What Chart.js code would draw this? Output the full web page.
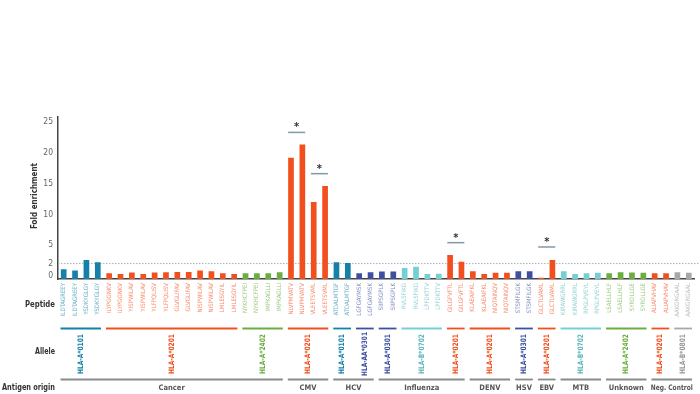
<!DOCTYPE html>
<html>
<head>
<meta charset="utf-8">
<script src="https://cdn.jsdelivr.net/npm/chart.js@4/dist/chart.umd.min.js"></script>
<style>html,body{margin:0;padding:0;background:#fff}</style>
</head>
<body>
<canvas id="chart" width="700" height="394"></canvas>
<script>
/* data */
const peptides = [
  'ILDTAGREEY','ILDTAGREEY','YSDKYGLGY','YSDKYGLGY',
  'ILYPGGNKV','ILYPGGNKV','YISPWILAV','YISPWILAV','YLFPQLISV','YLFPQLISV',
  'GLVGLIFAV','GLVGLIFAV','NISPWILAV','NISPWILAV','LMLESGYIL','LMLESGYIL',
  'NYKHCFPEI','NYKHCFPEI','IMPKAGLLI','IMPKAGLLI',
  'NLVPMVATV','NLVPMVATV','VLEETSVML','VLEETSVML',
  'ATDALMTGF','ATDALMTGF','LGFGAYMSK','LGFGAYMSK',
  'SIIPSGPLK','SIIPSGPLK','RVLSFIKG','RVLSFIKG','LPFDKTTV','LPFDKTTV','GILGFVFTL','GILGFVFTL',
  'KLAEAIFKL','KLAEAIFKL','NIQTAINQV','NIQTAINQV',
  'STSMFILGK','STSMFILGK',
  'GLCTLVAML','GLCTLVAML',
  'KIRAWGRRL','KIRAWGRRL','RPGLPVEYL','RPGLPVEYL',
  'LSAELLHLF','LSAELLHLF','SYRDLLGE','SYRDLLGE',
  'ALIAPVHAV','ALIAPVHAV','AAKGRGAAL','AAKGRGAAL'
];
const foldEnrichment = [
  1.1, 0.9, 2.6, 2.2,
  0.45, 0.3, 0.55, 0.3, 0.55, 0.6, 0.65, 0.65, 0.9, 0.75, 0.45, 0.3,
  0.45, 0.45, 0.45, 0.6,
  19.2, 21.35, 12.0, 14.6,
  2.2, 2.1, 0.45, 0.6,
  0.7, 0.7, 1.3, 1.5, 0.3, 0.35, 3.4, 2.3,
  0.75, 0.3, 0.5, 0.5,
  0.75, 0.75,
  -0.3, 2.6,
  0.75, 0.3, 0.45, 0.5,
  0.45, 0.6, 0.55, 0.5,
  0.45, 0.45, 0.6, 0.5
];
const alleleLabels = ['HLA-A*0101','HLA-A*0201','HLA-A*2402','HLA-A*0201','HLA-A*0101','HLA-AA*0301',
  'HLA-A*0301','HLA-B*0702','HLA-A*0201','HLA-A*0201','HLA-A*0301','HLA-A*0201','HLA-B*0702',
  'HLA-A*2402','HLA-A*0201','HLA-B*0801'];
const alleleSizes = [4,12,4,4,2,2,2,4,2,4,2,2,4,4,2,2];
const originLabels = ['Cancer','CMV','HCV','Influenza','DENV','HSV','EBV','MTB','Unknown','Neg. Control'];
const originSizes = [20,4,4,8,4,2,2,4,4,4];
const yTicks = [0,2,5,10,15,20,25];
const threshold = 2;
const sigStart = [20,22,34,42];      // first bar of each significant pair
const sigLevel = [23.3,16.6,5.4,4.7]; // height of the bracket

/* colours */
const alleleColors = {
  'HLA-A*0101':'#1580a8','HLA-A*0201':'#f24f1f','HLA-A*2402':'#6aae3e',
  'HLA-AA*0301':'#3d4fa0','HLA-A*0301':'#3d4fa0','HLA-B*0702':'#76cfd3','HLA-B*0801':'#a8a8ab'
};
const alleleTextColors = Object.assign({}, alleleColors, {'HLA-B*0702':'#5cb8bb','HLA-B*0801':'#999999'});
const FONT = '"DejaVu Sans Condensed","Liberation Sans Narrow","Liberation Sans",sans-serif';

function lighten(hex, k){
  const n = parseInt(hex.slice(1),16);
  const c = [n>>16, (n>>8)&255, n&255].map(v=>Math.round(v+(255-v)*k));
  return `rgb(${c[0]},${c[1]},${c[2]})`;
}
function spans(sizes){ let s=0; return sizes.map(n=>{ const r=[s,s+n-1]; s+=n; return r; }); }

const alleleSpans = spans(alleleSizes);
const originSpans = spans(originSizes);
const barAllele = [];
alleleSizes.forEach((n,i)=>{ for(let k=0;k<n;k++) barAllele.push(alleleLabels[i]); });
const barColors = barAllele.map(a=>alleleColors[a]);
const tickColors = barAllele.map(a=>lighten(alleleTextColors[a],0.35));

/* extra drawing: threshold, brackets, group rows */
const extras = {
  id:'extras',
  beforeDatasetsDraw(chart){
    const {ctx, chartArea:a, scales:{y}} = chart;
    const yy = y.getPixelForValue(threshold);
    ctx.save();
    ctx.strokeStyle='#9fb2bb'; ctx.lineWidth=1; ctx.setLineDash([1.5,1.5]);
    ctx.beginPath(); ctx.moveTo(a.left, yy); ctx.lineTo(chart.width, yy); ctx.stroke();
    ctx.restore();
  },
  afterDraw(chart){
    const {ctx, chartArea:a, scales:{x,y}} = chart;
    const cw = x.getPixelForValue(1) - x.getPixelForValue(0);
    const bw = cw*0.5;
    ctx.save();

    // significance brackets
    sigStart.forEach((s,i)=>{
      const x0 = x.getPixelForValue(s) - bw/2, x1 = x.getPixelForValue(s+1) + bw/2;
      const yy = y.getPixelForValue(sigLevel[i]);
      ctx.strokeStyle='#7f9aa6'; ctx.lineWidth=1.5;
      ctx.beginPath(); ctx.moveTo(x0,yy); ctx.lineTo(x1,yy); ctx.stroke();
      ctx.fillStyle='#333'; ctx.font=`bold 11px ${FONT}`;
      ctx.textAlign='center'; ctx.textBaseline='middle';
      ctx.fillText('*', (x0+x1)/2, yy-5);
    });

    // y axis title
    ctx.save();
    ctx.translate(35, 196); ctx.rotate(-Math.PI/2);
    ctx.fillStyle='#333'; ctx.font=`bold 9px ${FONT}`;
    ctx.textAlign='center'; ctx.textBaseline='middle';
    ctx.fillText('Fold enrichment', 0, 0, 66);
    ctx.restore();

    // row labels
    ctx.fillStyle='#333'; ctx.font=`bold 9px ${FONT}`;
    ctx.textAlign='right'; ctx.textBaseline='middle';
    ctx.fillText('Peptide', 55, a.bottom+26, 30);
    ctx.fillText('Allele', 55, a.bottom+73, 20);
    ctx.fillText('Antigen origin', 55, a.bottom+109, 53);

    // allele rows
    alleleSpans.forEach(([s,e],i)=>{
      const col = alleleColors[alleleLabels[i]];
      const x0 = x.getPixelForValue(s) - cw/2 + 2.5, x1 = x.getPixelForValue(e) + cw/2 - 2.5;
      const ly = a.bottom + 49.5;
      ctx.strokeStyle=col; ctx.lineWidth=1.8;
      ctx.beginPath(); ctx.moveTo(x0,ly); ctx.lineTo(x1,ly); ctx.stroke();
      ctx.save();
      ctx.translate((x0+x1)/2, a.bottom+75); ctx.rotate(-Math.PI/2);
      ctx.fillStyle=alleleTextColors[alleleLabels[i]]; ctx.font=`bold 7.5px ${FONT}`;
      ctx.textAlign='center'; ctx.textBaseline='middle';
      ctx.fillText(alleleLabels[i], 0, 0, alleleLabels[i].length*4);
      ctx.restore();
    });

    // antigen origin rows
    originSpans.forEach(([s,e],i)=>{
      const x0 = x.getPixelForValue(s) - cw/2 + 2.5, x1 = x.getPixelForValue(e) + cw/2 - 2.5;
      const ly = a.bottom + 100.5;
      ctx.strokeStyle='#8a8a8a'; ctx.lineWidth=1.8;
      ctx.beginPath(); ctx.moveTo(x0,ly); ctx.lineTo(x1,ly); ctx.stroke();
      ctx.fillStyle='#555'; ctx.font=`bold 7.5px ${FONT}`;
      ctx.textAlign='center'; ctx.textBaseline='middle';
      ctx.fillText(originLabels[i], (x0+x1)/2, a.bottom+109, Math.max(x1-x0, 42));
    });
    ctx.restore();
  }
};

new Chart(document.getElementById('chart'), {
  type:'bar',
  data:{
    labels: peptides,
    datasets:[{
      data: foldEnrichment,
      base: -0.5,
      backgroundColor: barColors,
      categoryPercentage: 1,
      barPercentage: 0.5
    }]
  },
  options:{
    responsive:false,
    animation:false,
    devicePixelRatio:1,
    layout:{padding:{top:117,right:2,left:0,bottom:0}},
    plugins:{legend:{display:false}, tooltip:{enabled:false}},
    scales:{
      x:{
        grid:{display:false, drawTicks:false},
        border:{display:true, color:'#444', width:1.5},
        ticks:{
          autoSkip:false, maxRotation:90, minRotation:90, padding:4,
          font:{size:6, family:FONT},
          color: c=>tickColors[c.index]
        },
        afterFit: s=>{ s.height = 115; }
      },
      y:{
        min:-0.5, max:25.8,
        grid:{display:false, drawTicks:false},
        border:{display:true, color:'#444', width:1.5},
        afterBuildTicks: s=>{ s.ticks = yTicks.map(v=>({value:v})); },
        ticks:{ padding:5, color:'#666', font:{size:8.5, family:FONT} },
        afterFit: s=>{ s.width = 58; }
      }
    }
  },
  plugins:[extras]
});
</script>
</body>
</html>
